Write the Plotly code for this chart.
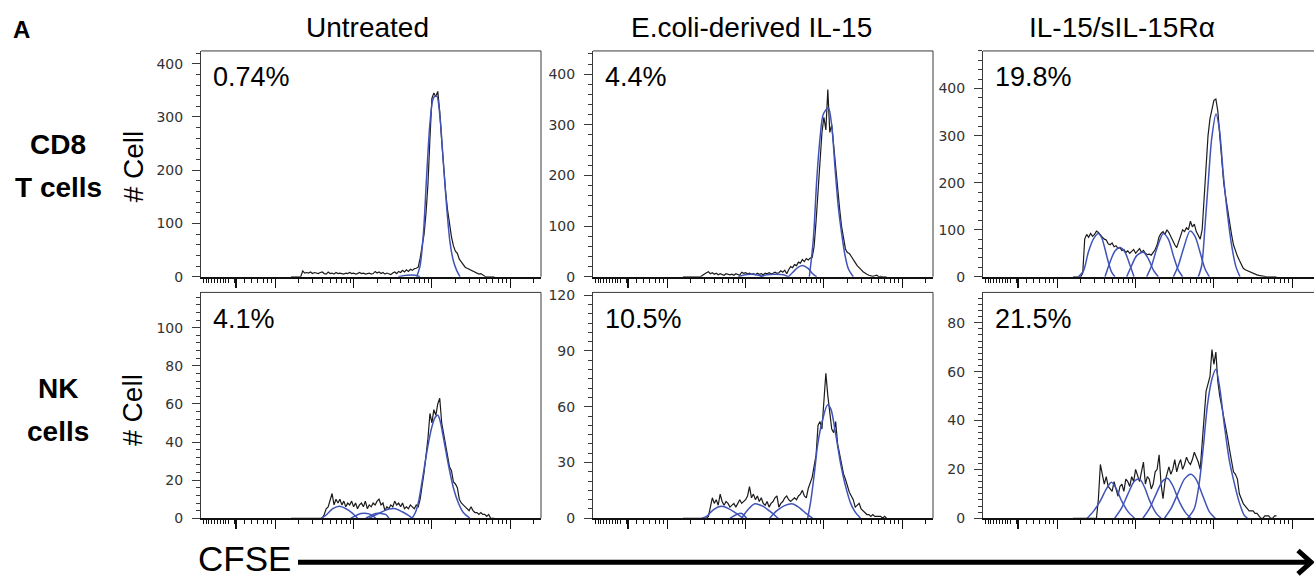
import numpy as np
import plotly.graph_objects as go

W, H = 1314, 581

# ---------------- data ----------------
# CFSE histogram bin centres, in log10 decades of fluorescence
cfse_bins = np.round(np.arange(2.2, 4.8001, 0.025), 3)

columns = ["Untreated", "E.coli-derived IL-15", "IL-15/sIL-15R\u03b1"]
rows = [["CD8", "T cells"], ["NK", "cells"]]
percent_divided = ["0.74%", "4.4%", "19.8%", "4.1%", "10.5%", "21.5%"]

counts_cd8_untreated = [0]*6 + [
    11, 7, 8, 7, 9, 6, 8, 7, 6, 8, 9, 6, 5, 9, 6, 7, 5, 8, 6, 7, 6, 5, 7, 6, 8, 6, 7, 5, 6, 8,
    6, 7, 5, 6, 7, 5, 6, 10, 7, 9, 6, 8, 5, 7, 6, 4, 7, 9, 6, 10, 8, 12, 9, 13, 10, 14, 12, 15,
    16, 18, 35, 55, 80, 120, 175, 260, 335, 345, 338, 348, 310, 255, 200, 160, 125, 95, 75, 58,
    48, 44, 33, 28, 23, 18, 16, 14, 12, 10, 8, 6, 5, 6, 3, 1, 0, 0, 0, 0, 0]
counts_cd8_ecoli = [0]*10 + [
    3, 6, 8, 10, 6, 8, 5, 7, 4, 6, 5, 3, 6, 5, 4, 5, 3, 6, 4, 3, 9, 7, 8, 6, 7, 5, 6, 4, 7, 5,
    6, 4, 7, 6, 8, 6, 7, 9, 7, 8, 12, 9, 13, 6, 14, 20, 18, 24, 22, 29, 27, 34, 30, 36, 33, 37, 38,
    60, 110, 165, 230, 285, 315, 290, 370, 285, 300, 255, 210, 175, 135, 100, 75, 55, 48, 46, 40,
    35, 28, 22, 17, 14, 10, 7, 5, 3, 2, 1, 2, 3, 0, 1, 0, 0, 0]
counts_cd8_complex = [0]*5 + [8] + [
    80, 90, 84, 92, 86, 90, 97, 94, 88, 84, 80, 78, 70, 68, 72, 64, 66, 60, 62, 56, 58, 52, 55,
    50, 54, 58, 50, 56, 60, 52, 56, 50, 47, 48, 46, 52, 58, 68, 85, 92, 96, 90, 100, 94, 84, 76,
    68, 62, 74, 85, 100, 96, 104, 100, 118, 106, 112, 96, 88, 80, 100,
    170, 240, 300, 336, 360, 375, 378, 352, 300, 250, 200, 170, 140, 110, 90, 68, 54, 44, 35, 27,
    18, 15, 13, 11, 9, 7, 6, 4, 3, 2, 1, 1, 0, 0, 0, 0, 0, 0]
counts_nk_untreated = [0]*17 + [
    2, 5, 6, 9, 13, 7, 10, 8, 10, 7, 9, 6, 8, 7, 9, 6, 8, 5, 7, 8, 6, 9, 5, 7, 6, 8, 7, 9, 10, 7,
    8, 4, 6, 5, 7, 6, 9, 7, 8, 6, 8, 5, 6, 5, 7, 6, 5, 7, 6, 10,
    16, 24, 33, 42, 55, 50, 57, 54, 60, 63, 50, 44, 40, 32, 27, 25, 19, 18, 16, 10, 8, 7, 6, 5, 4,
    6, 4, 3, 3, 2, 3, 2, 2, 1, 2, 0, 0, 0]
counts_nk_ecoli = [0]*13 + [
    1, 7, 11, 8, 10, 7, 13, 9, 7, 9, 8, 6, 7, 8, 6, 8, 10, 8, 9, 10, 12, 17, 11, 13, 10, 12, 9,
    11, 8, 7, 9, 6, 8, 9, 11, 12, 6, 8, 9, 11, 12, 10, 9, 10, 11, 10, 12, 13, 15, 12, 11, 16, 19,
    22, 28, 34,
    50, 52, 48, 62, 78, 66, 57, 48, 46, 52, 40, 34, 29, 24, 21, 17, 14, 12, 10, 6, 7, 8, 5, 4, 3,
    2, 2, 1, 2, 1, 1, 1, 1, 0, 1, 0]
counts_nk_complex = [0]*13 + [
    8, 22, 18, 14, 17, 13, 12, 11, 15, 12, 9, 13, 14, 11, 16, 15, 13, 17, 15, 20, 17, 15, 19, 23,
    14, 17, 16, 12, 14, 19, 20, 26, 14, 8, 15, 18, 21, 18, 20, 24, 19, 22, 24, 20, 22, 25, 23, 22,
    24, 27, 25, 23, 20,
    30, 42, 52, 55, 58, 69, 63, 68, 56, 50, 46, 41, 38, 33, 28, 24, 19, 18, 16, 10, 8, 6, 5, 4, 3,
    3, 3, 2, 2, 1, 0, 0, 1, 1, 1, 0, 0, 1, 1]

# fitted generation peaks (blue), x in decades, y in cell counts
fit_cd8_untreated_x = [[3.571, 3.678, 3.784, 3.848],
                       [3.806, 3.848, 3.891, 3.933, 3.976, 4.018, 4.061, 4.103, 4.146, 4.189, 4.231, 4.274, 4.316, 4.359]]
fit_cd8_untreated_y = [[0, 3, 3, 0],
                       [0, 20, 80, 190, 290, 335, 340, 300, 215, 130, 65, 30, 12, 0]]
fit_cd8_ecoli_x = [[2.907, 2.992, 3.078, 3.163, 3.227],
                   [3.184, 3.269, 3.376, 3.482, 3.546],
                   [3.546, 3.610, 3.674, 3.737, 3.801, 3.857, 3.908],
                   [3.814, 3.865, 3.908, 3.950, 3.992, 4.057, 4.099, 4.142, 4.184, 4.227, 4.270, 4.312, 4.376]]
fit_cd8_ecoli_y = [[0, 4, 5, 3, 0],
                   [0, 4, 5, 4, 0],
                   [0, 10, 19, 22, 16, 6, 0],
                   [0, 74, 190, 273, 321, 334, 300, 215, 138, 85, 42, 16, 0]]
fit_cd8_complex_x = [[2.269, 2.333, 2.396, 2.460, 2.524, 2.567, 2.609, 2.652, 2.694, 2.737],
                     [2.609, 2.673, 2.737, 2.801, 2.865, 2.929, 2.980],
                     [2.886, 2.950, 3.014, 3.099, 3.163, 3.227, 3.290],
                     [3.141, 3.205, 3.269, 3.354, 3.418, 3.482, 3.546, 3.601],
                     [3.482, 3.546, 3.610, 3.695, 3.759, 3.823, 3.886, 3.942],
                     [3.801, 3.844, 3.886, 3.929, 3.972, 4.027, 4.069, 4.120, 4.172, 4.227, 4.282, 4.333]]
fit_cd8_complex_y = [[0, 12, 52, 80, 92, 83, 59, 31, 10, 0],
                     [0, 31, 55, 62, 52, 24, 0],
                     [0, 24, 45, 52, 38, 14, 0],
                     [0, 24, 59, 92, 80, 45, 14, 0],
                     [0, 24, 59, 97, 86, 52, 17, 0],
                     [0, 24, 107, 204, 294, 346, 315, 218, 135, 66, 21, 0]]
fit_nk_untreated_x = [[2.586, 2.650, 2.734, 2.819, 2.903, 2.987, 3.051],
                      [2.966, 3.093, 3.198, 3.283],
                      [3.156, 3.283, 3.409, 3.451],
                      [3.198, 3.325, 3.451, 3.536, 3.620, 3.705, 3.747],
                      [3.747, 3.789, 3.831, 3.873, 3.916, 3.958, 4.000, 4.042, 4.076, 4.105, 4.148, 4.211, 4.274, 4.338, 4.401, 4.485]]
fit_nk_untreated_y = [[0, 1.7, 5, 6.3, 5, 2.6, 0],
                      [0, 2.5, 2.3, 0],
                      [0, 2.5, 2, 0],
                      [0, 2.6, 4.8, 5, 3.4, 1.4, 0],
                      [0, 3, 9, 19, 30, 40, 48, 53, 54, 51, 42, 28, 16, 8, 3, 0]]
fit_nk_ecoli_x = [[2.443, 2.506, 2.591, 2.696, 2.781, 2.865, 2.970],
                  [2.802, 2.886, 2.949, 3.013],
                  [2.949, 3.013, 3.118, 3.224, 3.308, 3.414],
                  [3.308, 3.392, 3.498, 3.603, 3.688, 3.772, 3.857],
                  [3.793, 3.835, 3.878, 3.920, 3.983, 4.046, 4.089, 4.152, 4.215, 4.278, 4.342, 4.405, 4.468]]
fit_nk_ecoli_y = [[0, 1.2, 4.7, 6.4, 5.2, 3, 0],
                  [0, 2, 2.6, 0],
                  [0, 3.8, 7.8, 6.4, 3.8, 0],
                  [0, 3.8, 6.8, 7.7, 5.6, 2.6, 0],
                  [0, 10, 24, 39.5, 53, 61, 58.7, 44.8, 29, 17, 8, 3, 0]]
fit_nk_complex_x = [[2.381, 2.458, 2.542, 2.627, 2.691, 2.754, 2.818, 2.903, 2.987],
                    [2.733, 2.818, 2.903, 2.987, 3.051, 3.114, 3.178, 3.263, 3.326],
                    [3.093, 3.178, 3.263, 3.347, 3.411, 3.475, 3.559, 3.644, 3.708],
                    [3.369, 3.453, 3.538, 3.623, 3.708, 3.771, 3.856, 3.941, 4.017],
                    [3.665, 3.750, 3.814, 3.864, 3.919, 3.975, 4.025, 4.076, 4.131, 4.195, 4.258, 4.322, 4.386, 4.428]]
fit_nk_complex_y = [[0, 2.7, 6.7, 12, 14.7, 12, 7.3, 2.7, 0],
                    [0, 4, 10, 15.3, 16, 12.7, 7.3, 2, 0],
                    [0, 4, 10, 15.3, 16.3, 13.3, 6.7, 2, 0],
                    [0, 4, 10, 16, 18, 16, 9.3, 2.7, 0],
                    [0, 4, 14.7, 29, 46.7, 57, 61, 53, 38.7, 24, 14.7, 6.7, 1.3, 0]]

y_tick_labels = [[0, 100, 200, 300, 400], [0, 100, 200, 300, 400], [0, 100, 200, 300, 400],
                 [0, 20, 40, 60, 80, 100], [0, 30, 60, 90, 120], [0, 20, 40, 60, 80]]

panels = [
    (counts_cd8_untreated, fit_cd8_untreated_x, fit_cd8_untreated_y),
    (counts_cd8_ecoli, fit_cd8_ecoli_x, fit_cd8_ecoli_y),
    (counts_cd8_complex, fit_cd8_complex_x, fit_cd8_complex_y),
    (counts_nk_untreated, fit_nk_untreated_x, fit_nk_untreated_y),
    (counts_nk_ecoli, fit_nk_ecoli_x, fit_nk_ecoli_y),
    (counts_nk_complex, fit_nk_complex_x, fit_nk_complex_y),
]
for c, _, _ in panels:
    assert len(c) == len(cfse_bins), len(c)

# ---------------- layout geometry (pixels) ----------------
col_px = [(201, 541), (593, 933), (983, 1314)]
row_px = [(47, 278), (294, 525)]
y_max = [424, 446, 480, 118.5, 121.5, 92.4]
y_minor = [20, 20, 20, 4, 5, 2.5]
PX_PER_DEC = 78.3
X0 = 1.051


def px(x):
    return x / W


def py(y):
    return 1 - y / H


BLACK = "#1b1b1b"
BLUE = "#4053b8"
AX = "#3a3a3a"

# CFSE axis ticks (biexponential-like display)
major_x = [1.49, 1.498, 1.506, 2, 3, 4, 5]
minor_x = list(np.round(np.arange(1.08, 1.44, 0.036), 3))
for dec in [1, 2, 3, 4, 5]:
    for k in range(2, 10):
        v = dec + np.log10(k)
        if 1.46 < v < 5.39:
            minor_x.append(round(float(v), 4))

fig = go.Figure()
layout = {}
shapes = []
annotations = []

for i, (counts, fx, fy) in enumerate(panels):
    r, c = divmod(i, 3)
    n = "" if i == 0 else str(i + 1)
    xa, ya = "x" + n, "y" + n
    fig.add_trace(go.Scatter(x=cfse_bins, y=counts, mode="lines", xaxis=xa, yaxis=ya,
                             line=dict(color=BLACK, width=1.2), hoverinfo="skip", showlegend=False))
    for gx, gy in zip(fx, fy):
        fig.add_trace(go.Scatter(x=gx, y=gy, mode="lines", xaxis=xa, yaxis=ya,
                                 line=dict(color=BLUE, width=1.5, shape="spline", smoothing=0.8),
                                 hoverinfo="skip", showlegend=False))
    x0p, x1p = col_px[c]
    y0p, y1p = row_px[r]
    xr = [X0, X0 + (x1p - x0p) / PX_PER_DEC]
    layout["xaxis" + n] = dict(
        domain=[px(x0p), px(x1p)], range=xr, anchor=ya, showgrid=False, zeroline=False,
        showline=True, linecolor="#111", linewidth=1.6,
        tickmode="array", tickvals=major_x, ticks="outside", ticklen=9, tickwidth=1.2,
        tickcolor="#111", showticklabels=False,
        minor=dict(tickmode="array", tickvals=minor_x, ticks="outside", ticklen=4,
                   tickwidth=1, tickcolor="#111"))
    layout["yaxis" + n] = dict(
        domain=[py(y1p), py(y0p)], range=[0, y_max[i]], anchor=xa, showgrid=False,
        zeroline=False, showline=True, linecolor=AX, linewidth=1,
        tickmode="array", tickvals=y_tick_labels[i], ticktext=[str(v) for v in y_tick_labels[i]],
        ticks="outside", ticklen=8, tickwidth=1, tickcolor=AX,
        tickfont=dict(family="DejaVu Sans", size=14, color="#333"),
        ticklabelstandoff=6,
        minor=dict(tickmode="linear", tick0=0, dtick=y_minor[i], ticks="outside", ticklen=4,
                   tickwidth=1, tickcolor=AX))
    # top and right frame lines
    shapes.append(dict(type="line", xref="paper", yref="paper", x0=px(x0p), x1=px(x1p),
                       y0=py(y0p), y1=py(y0p), line=dict(color=AX, width=1)))
    if c < 2:
        shapes.append(dict(type="line", xref="paper", yref="paper", x0=px(x1p), x1=px(x1p),
                           y0=py(y0p), y1=py(y1p), line=dict(color=AX, width=1)))
    annotations.append(dict(text=percent_divided[i], xref="paper", yref="paper",
                            x=px(x0p + 10), y=py(y0p + 27), xanchor="left", yanchor="middle",
                            showarrow=False,
                            font=dict(family="Liberation Sans", size=27, color="#000")))

# column titles
for c, t in enumerate(columns):
    cx = [367, 751, 1122][c]
    annotations.append(dict(text=t, xref="paper", yref="paper", x=px(cx), y=py(23),
                            xanchor="center", yanchor="middle", showarrow=False,
                            font=dict(family="Liberation Sans", size=28, color="#000")))
# row labels and y titles
for r, (l1, l2) in enumerate(rows):
    cy = [165, 414][r]
    for t, yy in [(l1, cy - 22), (l2, cy + 22)]:
        annotations.append(dict(text="<b>" + t + "</b>", xref="paper", yref="paper", x=px(58),
                                y=py(yy), xanchor="center", yanchor="middle", showarrow=False,
                                font=dict(family="Liberation Sans", size=28, color="#000")))
    annotations.append(dict(text="# Cell", xref="paper", yref="paper", x=px(133), y=py(cy),
                            xanchor="center", yanchor="middle", showarrow=False, textangle=-90,
                            font=dict(family="Liberation Sans", size=28, color="#000")))
annotations.append(dict(text="<b>A</b>", xref="paper", yref="paper", x=px(21), y=py(25),
                        xanchor="center", yanchor="middle", showarrow=False,
                        font=dict(family="Liberation Sans", size=24, color="#000")))
annotations.append(dict(text="CFSE", xref="paper", yref="paper", x=px(196), y=py(566),
                        xanchor="left", yanchor="middle", showarrow=False,
                        font=dict(family="Liberation Sans", size=35, color="#000")))
# CFSE arrow
shapes.append(dict(type="line", xref="paper", yref="paper", x0=px(298), x1=px(1309),
                   y0=py(570), y1=py(570), line=dict(color="#000", width=5)))
shapes.append(dict(type="path", xref="paper", yref="paper",
                   path=f"M {px(1298)} {py(558)} L {px(1311)} {py(570)} L {px(1298)} {py(582)}",
                   line=dict(color="#000", width=5)))

fig.update_layout(width=W, height=H, margin=dict(l=0, r=0, t=0, b=0),
                  paper_bgcolor="white", plot_bgcolor="white",
                  shapes=shapes, annotations=annotations, **layout)
fig.write_html("out.html", include_plotlyjs=True, config={"displayModeBar": False},
               post_script="document.body.style.margin='0';document.body.style.overflow='hidden';")
